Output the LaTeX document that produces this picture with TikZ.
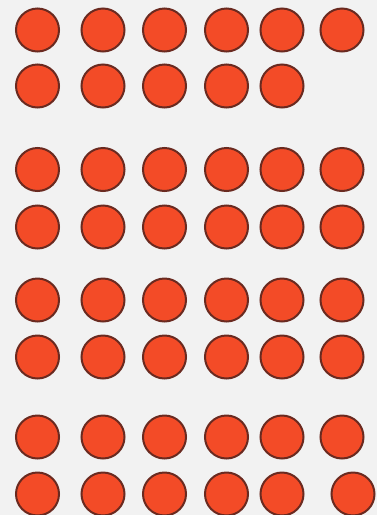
\documentclass[tikz,border=0pt]{standalone}
\definecolor{bg}{HTML}{F2F2F2}
\definecolor{dotfill}{HTML}{F34B27}
\definecolor{dotedge}{HTML}{6A2A20}
\begin{document}
\begin{tikzpicture}[x=1pt,y=-1pt,
  dot/.style={circle,draw=dotedge,fill=dotfill,line width=2pt,minimum size=43pt,inner sep=0pt}]
\fill[bg] (0,0) rectangle (377,515);
\useasboundingbox (0,0) rectangle (377,515);
\foreach \y [count=\r] in {30,86,169.5,227,300,357,437,494}{
  \foreach \x [count=\c] in {37.5,103,164.5,226.5,282,342}{
    \ifnum\r=2 \ifnum\c=6 \else \node[dot] (d\r-\c) at (\x,\y) {}; \fi
    \else\ifnum\r=8 \ifnum\c=6 \node[dot] (d\r-\c) at (353,\y) {}; \else \node[dot] (d\r-\c) at (\x,\y) {}; \fi
    \else \node[dot] (d\r-\c) at (\x,\y) {}; \fi\fi
  }
}
\end{tikzpicture}
\end{document}
